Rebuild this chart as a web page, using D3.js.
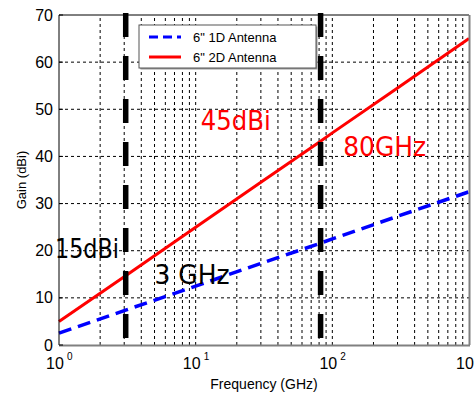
<!DOCTYPE html>
<html>
<head>
<meta charset="utf-8">
<script src="https://cdn.jsdelivr.net/npm/d3@7"></script>
<style>
  html, body { margin: 0; padding: 0; background: #fff; }
  svg { display: block; }
  text { font-family: "Liberation Sans", Arial, sans-serif; }
</style>
</head>
<body>
<svg id="chart" width="475" height="393"></svg>
<script>
/* data */
const freqs  = [1, 3, 10, 30, 80, 100, 300, 1000];
const gain1D = [2.5, 7.3, 12.5, 17.3, 21.5, 22.5, 27.3, 32.5];
const gain2D = [5, 14.5, 25, 34.5, 43, 45, 54.5, 65];
const markerFreqs = [3, 80];
const yTicks = [0, 10, 20, 30, 40, 50, 60, 70];
const xTicks = [1, 10, 100, 1000];
const seriesNames = ['6" 1D Antenna', '6" 2D Antenna'];
const notes = [
  { text: "15dBi", f: 0.935, g: 18.5, color: "#000", w: 64 },
  { text: "3 GHz", f: 5.0,   g: 13.0, color: "#000", w: 75 },
  { text: "45dBi", f: 10.9,  g: 45.7, color: "#ff0000", w: 70 },
  { text: "80GHz", f: 120,   g: 40.0, color: "#ff0000", w: 83 }
];

const svg = d3.select("#chart");
const m = { l: 59, t: 15, r: 6, b: 48 };
const W = 475, H = 393;

const x = d3.scaleLog().domain([1, 1000]).range([m.l, W - m.r]);
const y = d3.scaleLinear().domain([0, 70]).range([H - m.b, m.t]);

// grid
const minor = [];
for (let d = 1; d < 1000; d *= 10)
  for (let k = 1; k <= 9; k++) if (d * k > 1) minor.push(d * k);

svg.append("g").selectAll("line").data(minor).join("line")
  .attr("x1", d => x(d)).attr("x2", d => x(d))
  .attr("y1", y(0)).attr("y2", y(70))
  .attr("stroke", "#000").attr("stroke-width", 1)
  .attr("stroke-dasharray", "3,3");

svg.append("g").selectAll("line").data(yTicks.slice(1, -1)).join("line")
  .attr("x1", x(1)).attr("x2", x(1000))
  .attr("y1", d => y(d)).attr("y2", d => y(d))
  .attr("stroke", "#000").attr("stroke-width", 1)
  .attr("stroke-dasharray", "3,3");

// lines
const line = d3.line().x(d => x(d[0])).y(d => y(d[1]));

svg.append("path")
  .datum(freqs.map((f, i) => [f, gain2D[i]]))
  .attr("d", line).attr("fill", "none")
  .attr("stroke", "#ff0000").attr("stroke-width", 3);

svg.append("path")
  .datum(freqs.map((f, i) => [f, gain1D[i]]))
  .attr("d", line).attr("fill", "none")
  .attr("stroke", "#0000ff").attr("stroke-width", 3.5)
  .attr("stroke-dasharray", "13,7");

// thick markers
svg.append("g").selectAll("line").data(markerFreqs).join("line")
  .attr("x1", d => x(d) + 1.5).attr("x2", d => x(d) + 1.5)
  .attr("y1", 13).attr("y2", y(0) - 6)
  .attr("stroke", "#000").attr("stroke-width", 5.5)
  .attr("stroke-dasharray", "24,19");

// frame
svg.append("line").attr("x1", x(1)).attr("x2", x(1000)).attr("y1", y(70)).attr("y2", y(70))
  .attr("stroke", "#000").attr("stroke-width", 1);
svg.append("line").attr("x1", x(1)).attr("x2", x(1)).attr("y1", y(70)).attr("y2", y(0))
  .attr("stroke", "#000").attr("stroke-width", 1);
svg.append("line").attr("x1", x(1)).attr("x2", x(1000) + 1).attr("y1", y(0) + 0.5).attr("y2", y(0) + 0.5)
  .attr("stroke", "#808080").attr("stroke-width", 2);
svg.append("line").attr("x1", x(1000) + 0.5).attr("x2", x(1000) + 0.5).attr("y1", y(70)).attr("y2", y(0))
  .attr("stroke", "#808080").attr("stroke-width", 2);

// y ticks
const yAx = svg.append("g");
yAx.selectAll("line").data(yTicks).join("line")
  .attr("x1", x(1)).attr("x2", x(1) + 4)
  .attr("y1", d => y(d)).attr("y2", d => y(d)).attr("stroke", "#000");
yAx.selectAll("text").data(yTicks).join("text")
  .attr("x", 53).attr("y", d => y(d) + 5.5)
  .attr("text-anchor", "end").attr("font-size", 16)
  .text(d => d);

// x ticks
const xAx = svg.append("g").selectAll("g").data(xTicks).join("g")
  .attr("transform", d => `translate(${x(d)},369)`);
xAx.append("text").attr("x", -4).attr("text-anchor", "middle")
  .attr("font-size", 16).text("10");
xAx.append("text").attr("x", 8).attr("y", -9)
  .attr("font-size", 10).text(d => Math.round(Math.log10(d)));

// axis labels
svg.append("text").attr("x", 264).attr("y", 389)
  .attr("text-anchor", "middle").attr("font-size", 14).text("Frequency (GHz)");
svg.append("text")
  .attr("transform", "translate(26,180) rotate(-90)")
  .attr("text-anchor", "middle").attr("font-size", 13).text("Gain (dBi)");

// legend
const lg = svg.append("g").attr("transform", "translate(139,25)");
lg.append("rect").attr("x", 1.5).attr("y", 1.5).attr("width", 177).attr("height", 43)
  .attr("fill", "#999");
lg.append("rect").attr("width", 177).attr("height", 43)
  .attr("fill", "#fff").attr("stroke", "#555").attr("stroke-width", 1);
const legRows = lg.selectAll("g").data(seriesNames).join("g")
  .attr("transform", (d, i) => `translate(0,${12 + i * 20})`);
legRows.append("line").attr("x1", 10).attr("x2", 42)
  .attr("stroke", (d, i) => i ? "#ff0000" : "#0000ff")
  .attr("stroke-width", 3)
  .attr("stroke-dasharray", (d, i) => i ? null : "9,5");
legRows.append("text").attr("x", 54).attr("y", 5)
  .attr("font-size", 13).text(d => d);

// annotations
svg.append("g").selectAll("text").data(notes).join("text")
  .attr("x", d => x(d.f)).attr("y", d => y(d.g))
  .attr("fill", d => d.color)
  .attr("font-size", 26)
  .attr("textLength", d => d.w).attr("lengthAdjust", "spacingAndGlyphs")
  .style("font-family", "'Comic Sans MS', 'DejaVu Sans', sans-serif")
  .text(d => d.text);
</script>
</body>
</html>
